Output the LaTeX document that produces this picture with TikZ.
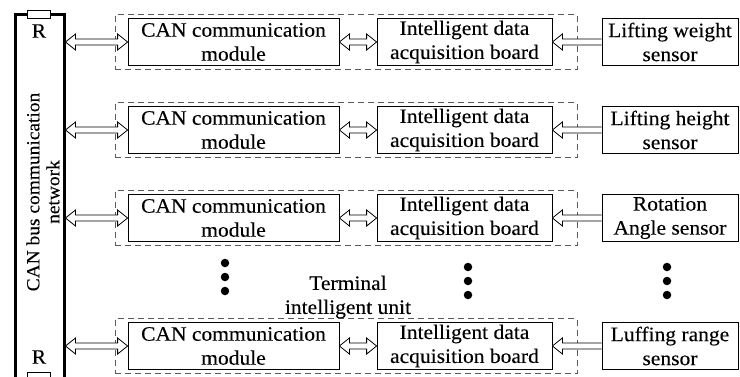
\documentclass[tikz,border=0pt]{standalone}
\usepackage{fontspec}
\setmainfont{Liberation Serif}[FakeStretch=1.05, FakeBold=0.15]
\usetikzlibrary{calc}
\tikzset{
  txt/.style={font=\fontsize{20.5}{24}\selectfont, align=center, inner sep=0pt},
  box/.style={txt, draw, line width=0.8pt, minimum height=47pt},
  canbox/.style={box, minimum width=211pt},
  boardbox/.style={box, minimum width=175pt},
  sensorbox/.style={box, minimum width=136pt},
  unitbox/.style={draw=black!65, dash pattern=on 6pt off 4pt, line width=0.9pt,
    minimum width=462pt, minimum height=55pt, inner sep=0pt},
  resbox/.style={draw, fill=white, line width=0.8pt, minimum width=23pt, minimum height=8pt, inner sep=0pt},
  dblarrow/.style={draw, fill=white, line width=0.8pt,
    to path={let \p1=(\tikztostart), \p2=(\tikztotarget) in
      (\x1,\y1) -- (\x1+10,\y1+8) -- (\x1+10,\y1+3) -- (\x2-10,\y1+3) -- (\x2-10,\y1+8)
      -- (\x2,\y1) -- (\x2-10,\y1-8) -- (\x2-10,\y1-3) -- (\x1+10,\y1-3) -- (\x1+10,\y1-8) -- cycle}},
  sglarrow/.style={draw, fill=white, line width=0.8pt,
    to path={let \p1=(\tikztostart), \p2=(\tikztotarget) in
      (\x1,\y1+3) -- (\x2+10,\y1+3) -- (\x2+10,\y1+8) -- (\x2,\y1) -- (\x2+10,\y1-8)
      -- (\x2+10,\y1-3) -- (\x1,\y1-3)}},
  dot/.style={circle, fill, inner sep=0pt, minimum size=8.5pt},
}
\begin{document}
\begin{tikzpicture}[x=1pt,y=-1pt]
\useasboundingbox (0,0) rectangle (740,376);
% bus
\draw[line width=3pt] (15,385) -- (15,14) -- (64,14) -- (64,385);
\coordinate (busR) at (65.5,14);
\node[resbox] (rtop) at (38.5,14.5) {};
\node[txt] (rlbltop) at (39,31) {R};
\node[resbox] (rbot) at (38.5,376) {};
\node[txt] (rlblbot) at (39,357) {R};
\node[txt, rotate=90, font=\fontsize{18.5}{20}\selectfont] (buslbl) at (43,192) {CAN bus communication\\network};
% rows
\foreach \i/\c/\s in {1/42/{Lifting weight\\sensor}, 2/130/{Lifting height\\sensor}, 3/218/{Rotation\\Angle sensor}, 4/346/{Luffing range\\sensor}} {
  \node[unitbox] (unit\i) at (346,\c) {};
  \node[canbox] (can\i) at (233.5,\c) {CAN communication\\module};
  \node[boardbox] (board\i) at (464.5,\c) {Intelligent data\\acquisition board};
  \node[sensorbox] (sens\i) at (670,\c) {\s};
  \draw[dblarrow] (busR |- can\i.west) to (can\i.west);
  \draw[dblarrow] (can\i.east) to (board\i.west);
  \draw[sglarrow] (sens\i.west) to (board\i.east);
}
% ellipsis dots
\foreach \x/\y [count=\k] in {225/263, 468/267, 667/267} {
  \node[dot] (da\k) at (\x,\y) {};
  \node[dot] (db\k) at (\x,\y+14) {};
  \node[dot] (dc\k) at (\x,\y+28) {};
}
\node[txt] (unitlbl) at (348,297) {Terminal\\intelligent unit};
\end{tikzpicture}
\end{document}
